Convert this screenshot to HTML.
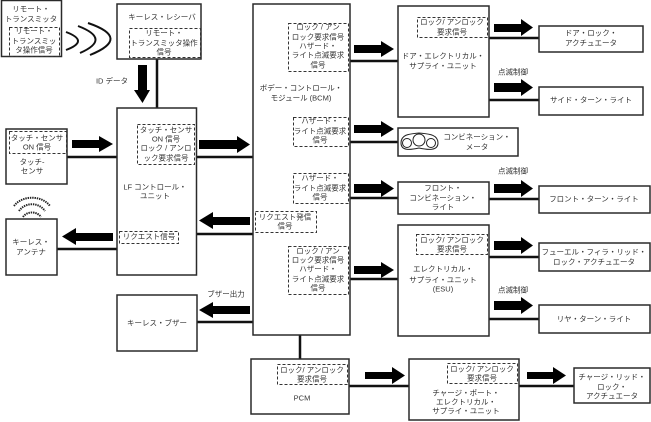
<!DOCTYPE html>
<html><head><meta charset="utf-8"><style>
html,body{margin:0;padding:0;background:#fff}
svg{display:block}
text{font-family:"Liberation Sans","Noto Sans CJK JP",sans-serif;font-size:7.5px;fill:#333;text-anchor:middle;dominant-baseline:central}
.b{fill:#fff;stroke:#2a2a2a;stroke-width:1.5}
.d{fill:none;stroke:#333;stroke-width:1;stroke-dasharray:3 2;transform:translate(.5px,.5px)}
.l{stroke:#111;stroke-width:2.5;fill:none}
.a{fill:#000;stroke:none}
.w{fill:none;stroke:#222;stroke-width:2;stroke-dasharray:1.4 .9}
.c{fill:none;stroke:#222;stroke-width:1}
</style></head><body>
<svg width="651" height="422" viewBox="0 0 651 422" xmlns="http://www.w3.org/2000/svg">
<!-- connectors -->
<path class="l" d="M157 59V108M67 157H117M196 157H253M196 234H253M57 249H117M197 322H253M350 61H398M350 142H398M350 198H398M350 279H398M489 38H539M489 100H539M489 199H539M489 257H539M489 319H539M300 335V359M349 386H409M519 386H574"/>
<!-- boxes -->
<rect class="b" x="1.5" y="0.5" width="60" height="56"/>
<rect class="b" x="117" y="4" width="84" height="55"/>
<rect class="b" x="117" y="108" width="79.500" height="167"/>
<rect class="b" x="6" y="129" width="61" height="55"/>
<rect class="b" x="6" y="219" width="51" height="56"/>
<rect class="b" x="117" y="295" width="80" height="56"/>
<rect class="b" x="253" y="4" width="97" height="331"/>
<rect class="b" x="251" y="359" width="98" height="55"/>
<rect class="b" x="398" y="6" width="91" height="111"/>
<rect class="b" x="539" y="26" width="104" height="26"/>
<rect class="b" x="539" y="87" width="104" height="28"/>
<rect class="b" x="398" y="128" width="120" height="28"/>
<rect class="b" x="398" y="182" width="91" height="32"/>
<rect class="b" x="539" y="186" width="111" height="27"/>
<rect class="b" x="398" y="225" width="91" height="111"/>
<rect class="b" x="539" y="243" width="111" height="28"/>
<rect class="b" x="539" y="305" width="111" height="28"/>
<rect class="b" x="409" y="359" width="110" height="61"/>
<rect class="b" x="574" y="368" width="76" height="35"/>
<!-- dashed -->
<rect class="d" x="9" y="27" width="50" height="29"/>
<rect class="d" x="129" y="28" width="71" height="29"/>
<rect class="d" x="137" y="124" width="57" height="40"/>
<rect class="d" x="9" y="131" width="57" height="22"/>
<rect class="d" x="119" y="231" width="59" height="12"/>
<rect class="d" x="288" y="23" width="60" height="48"/>
<rect class="d" x="293" y="117" width="55" height="29"/>
<rect class="d" x="293" y="173" width="55" height="30"/>
<rect class="d" x="255" y="211" width="61" height="21"/>
<rect class="d" x="288" y="246" width="60" height="48"/>
<rect class="d" x="277" y="364" width="70" height="20"/>
<rect class="d" x="417" y="17" width="70" height="20"/>
<rect class="d" x="416" y="234" width="71" height="20"/>
<rect class="d" x="447" y="363" width="70" height="20"/>
<!-- arrows -->
<polygon class="a" points="138,65 147,65 147,90 150,90 142.500,103 134,90 138,90"/>
<polygon class="a" points="72,140 99,140 99,136 113,144 99,152 99,148 72,148"/>
<polygon class="a" points="199,140 237,140 237,136 250,144.500 237,153 237,149 199,149"/>
<polygon class="a" points="250,217 213,217 213,212 199,220.500 213,229 213,225 250,225"/>
<polygon class="a" points="113,233 76,233 76,228 62,236.500 76,245 76,241 113,241"/>
<polygon class="a" points="250,306 213,306 213,302 199,310 213,318 213,314 250,314"/>
<polygon class="a" points="354,45 381,45 381,41 394,49 381,57 381,53 354,53"/>
<polygon class="a" points="354,125 381,125 381,121 394,129 381,137 381,133 354,133"/>
<polygon class="a" points="354,184 381,184 381,180 394,188.500 381,197 381,193 354,193"/>
<polygon class="a" points="354,266 381,266 381,262 394,270 381,278 381,274 354,274"/>
<polygon class="a" points="494,24 521,24 521,19 533,27.500 521,36 521,32 494,32"/>
<polygon class="a" points="494,83 521,83 521,79 533,87.500 521,96 521,92 494,92"/>
<polygon class="a" points="494,184 521,184 521,180 533,188.500 521,197 521,193 494,193"/>
<polygon class="a" points="494,241 521,241 521,237 533,245.500 521,254 521,250 494,250"/>
<polygon class="a" points="494,301 521,301 521,297 533,305.500 521,314 521,310 494,310"/>
<polygon class="a" points="365,372 392,372 392,367 405,375.500 392,384 392,379 365,379"/>
<polygon class="a" points="527,372 553,372 553,367 566,375.500 553,384 553,379 527,379"/>
<!-- waves -->
<path d="M66 32Q90 41 66 50" fill="none" stroke="#111" stroke-width="2"/>
<path d="M78 26Q112 39 80 53" fill="none" stroke="#111" stroke-width="2"/>
<path d="M88 23Q132 38 90 55" fill="none" stroke="#111" stroke-width="2"/>
<!-- antenna arcs -->
<path class="w" d="M14 206C22 195 42 195 50 206"/>
<path class="w" d="M19 211C25 202 39 202 45 211"/>
<path class="w" d="M23 217C27 211 37 211 41 217"/>
<!-- meter -->
<path class="c" d="M401 143C401 134 410 134 419 133C428 134 438 134 438 143C438 151 428 150 419 148C410 150 401 151 401 143Z"/>
<circle class="c" cx="407" cy="143" r="4.500"/>
<circle class="c" cx="419" cy="140" r="6"/>
<circle class="c" cx="431" cy="143" r="4.500"/>
<!-- text -->
<text x="31" y="9">リモート・</text><text x="31" y="19">トランスミッタ</text>
<text x="34" y="31">リモート・</text><text x="34" y="41">トランスミッ</text><text x="34" y="50">タ操作信号</text>
<text x="162" y="17">キーレス・レシーバ</text>
<text x="164" y="33">リモート・</text><text x="164" y="43">トランスミッタ操作</text><text x="164" y="52">信号</text>
<text x="112" y="81">ID データ</text>
<text x="166" y="130">タッチ・センサ</text><text x="166" y="139">ON 信号</text><text x="166" y="148">ロック / アンロ</text><text x="166" y="158">ック要求信号</text>
<text x="155" y="187">LF コントロール・</text><text x="155" y="196">ユニット</text>
<text x="37" y="138">タッチ・センサ</text><text x="37" y="147">ON 信号</text>
<text x="32" y="162">タッチ-</text><text x="32" y="171">センサ</text>
<text x="149" y="236.500">リクエスト信号</text>
<text x="31" y="242">キーレス・</text><text x="31" y="252">アンテナ</text>
<text x="157" y="323">キーレス・ブザー</text>
<text x="226" y="294">ブザー出力</text>
<text x="318" y="27">ロック / アン</text><text x="318" y="37">ロック要求信号</text><text x="318" y="46">ハザード・</text><text x="318" y="55">ライト点滅要求</text><text x="318" y="65">信号</text>
<text x="301" y="88">ボデー・コントロール・</text><text x="301" y="98">モジュール (BCM)</text>
<text x="320" y="121">ハザード・</text><text x="320" y="131">ライト点滅要求</text><text x="320" y="140">信号</text>
<text x="320" y="178">ハザード・</text><text x="320" y="188">ライト点滅要求</text><text x="320" y="197">信号</text>
<text x="285" y="217">リクエスト発信</text><text x="285" y="226">信号</text>
<text x="318" y="251">ロック / アン</text><text x="318" y="260">ロック要求信号</text><text x="318" y="269">ハザード・</text><text x="318" y="279">ライト点滅要求</text><text x="318" y="288">信号</text>
<text x="302" y="398">PCM</text>
<text x="312" y="370">ロック/ アンロック</text><text x="312" y="379">要求信号</text>
<text x="452" y="22">ロック/ アンロック</text><text x="452" y="32">要求信号</text>
<text x="443" y="56">ドア・エレクトリカル・</text><text x="443" y="66">サプライ・ユニット</text>
<text x="591" y="33">ドア・ロック・</text><text x="591" y="43">アクチュエータ</text>
<text x="513" y="72">点滅制御</text>
<text x="591" y="100">サイド・ターン・ライト</text>
<text x="477" y="137">コンビネーション・</text><text x="477" y="147">メータ</text>
<text x="443" y="188">フロント・</text><text x="443" y="198">コンビネーション・</text><text x="443" y="207">ライト</text>
<text x="513" y="171">点滅制御</text>
<text x="594" y="199">フロント・ターン・ライト</text>
<text x="452" y="240">ロック/ アンロック</text><text x="452" y="249">要求信号</text>
<text x="443" y="269">エレクトリカル・</text><text x="443" y="280">サプライ・ユニット</text><text x="443" y="289">(ESU)</text>
<text x="594" y="252">フューエル・フィラ・リッド・</text><text x="594" y="262">ロック・アクチュエータ</text>
<text x="513" y="290">点滅制御</text>
<text x="594" y="319">リヤ・ターン・ライト</text>
<text x="482" y="369">ロック/ アンロック</text><text x="482" y="378">要求信号</text>
<text x="466" y="393">チャージ・ポート・</text><text x="466" y="402">エレクトリカル・</text><text x="466" y="411">サプライ・ユニット</text>
<text x="612" y="377">チャージ・リッド・</text><text x="612" y="387">ロック・</text><text x="612" y="396">アクチュエータ</text>
</svg>
</body></html>
